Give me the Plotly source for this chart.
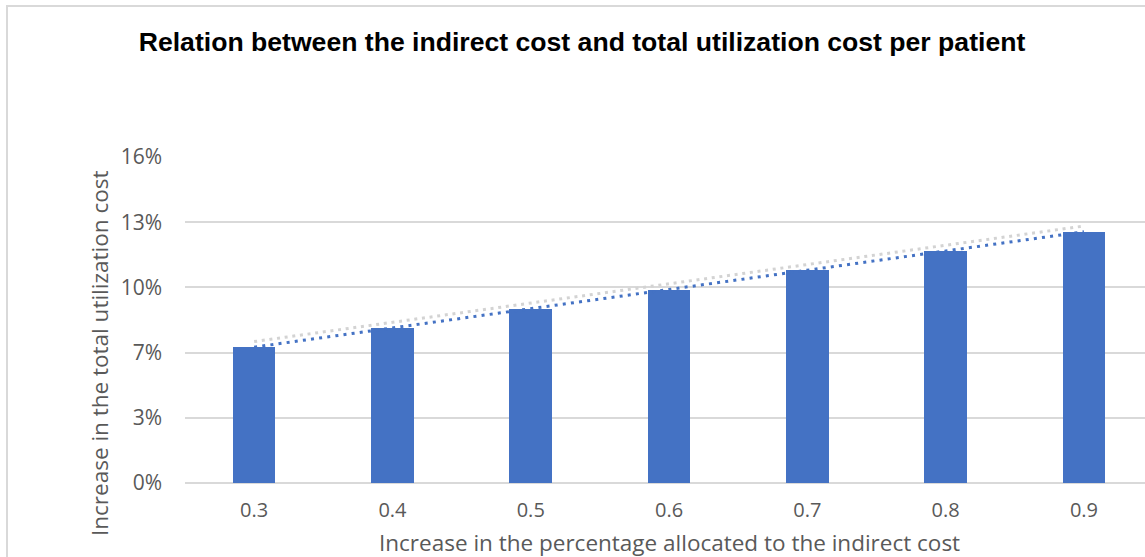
import numpy as np
import plotly.graph_objects as go

# Share of cost allocated to the indirect cost (categories)
x_labels = ["0.3", "0.4", "0.5", "0.6", "0.7", "0.8", "0.9"]
# Increase in the total utilization cost per patient
cost_increase = [0.0678, 0.0773, 0.0869, 0.0964, 0.1060, 0.1157, 0.1253]
# Upper reference trend (values at the first and last category)
upper_trend = [0.0705, 0.1281]

y_tick_vals = [0.0, 0.0325, 0.065, 0.0975, 0.13, 0.1625]
y_tick_labels = ["0%", "3%", "7%", "10%", "13%", "16%"]

W, H = 1145, 557
L, R, T, B = 185, 0, 157, 74

pos = list(range(len(x_labels)))

# Linear trend through the bars
slope, intercept = np.polyfit(pos, cost_increase, 1)
trend_x = [pos[0], pos[-1]]
trend_y = [intercept + slope * p for p in trend_x]

fig = go.Figure()
fig.add_trace(go.Bar(
    x=pos, y=cost_increase, width=0.308,
    marker=dict(color="#4472C4", line=dict(width=0)),
    showlegend=False,
))
fig.add_trace(go.Scatter(
    x=trend_x, y=upper_trend, mode="lines",
    line=dict(color="#D3D3D3", width=3, dash="3px,4.7px"),
    showlegend=False,
))
fig.add_trace(go.Scatter(
    x=trend_x, y=trend_y, mode="lines",
    line=dict(color="#4472C4", width=3, dash="3px,5.2px"),
    showlegend=False,
))

plot_w = W - L - R
plot_h = H - T - B


def px_x(v):
    return (v - L) / plot_w


def px_y(v):
    return (H - B - v) / plot_h


label_family = "'Open Sans', Lato, sans-serif"
y_tick_font = dict(family=label_family, size=21, color="#595959")
x_tick_font = dict(family=label_family, size=20, color="#595959")
title_font = dict(family=label_family, size=22.5, color="#595959")

fig.update_layout(
    width=W, height=H,
    margin=dict(l=L, r=R, t=T, b=B, pad=0),
    paper_bgcolor="white", plot_bgcolor="white",
    bargap=0,
    title=dict(
        text="<b>Relation between the indirect cost and total utilization cost per patient</b>",
        x=582 / W, xanchor="center", xref="container",
        y=1 - 42 / H, yanchor="middle", yref="container",
        font=dict(family="Liberation Sans, Arial, sans-serif", size=26.6, color="#000000"),
    ),
    xaxis=dict(
        range=[-0.5, -0.5 + plot_w / 138.3],
        tickmode="array", tickvals=pos, ticktext=x_labels,
        showgrid=False, zeroline=False, showline=False, ticks="",
        tickfont=x_tick_font, ticklabelstandoff=13,
        fixedrange=True,
    ),
    yaxis=dict(
        range=[0, 0.1625],
        tickmode="array", tickvals=y_tick_vals, ticktext=y_tick_labels,
        showgrid=True, gridcolor="#D9D9D9", gridwidth=2,
        zeroline=True, zerolinecolor="#D9D9D9", zerolinewidth=2,
        showline=False, ticks="",
        tickfont=y_tick_font, ticklabelstandoff=22,
        fixedrange=True,
    ),
    annotations=[
        dict(
            text="Increase in the percentage allocated to the indirect cost",
            xref="paper", yref="paper", x=px_x(669), y=px_y(542),
            xanchor="center", yanchor="middle", showarrow=False,
            font=title_font,
        ),
        dict(
            text="Increase in the total utilization cost",
            xref="paper", yref="paper", x=px_x(99), y=px_y(354),
            xanchor="center", yanchor="middle", showarrow=False, textangle=-90,
            font=title_font,
        ),
    ],
    shapes=[
        # chart area border (left and top edges)
        dict(type="line", xref="paper", yref="paper",
             x0=px_x(7), x1=px_x(7), y0=px_y(6), y1=px_y(H + 5),
             line=dict(color="#D9D9D9", width=2)),
        dict(type="line", xref="paper", yref="paper",
             x0=px_x(6), x1=px_x(W + 5), y0=px_y(6), y1=px_y(6),
             line=dict(color="#D9D9D9", width=2)),
    ],
)

fig.write_html("out.html")
